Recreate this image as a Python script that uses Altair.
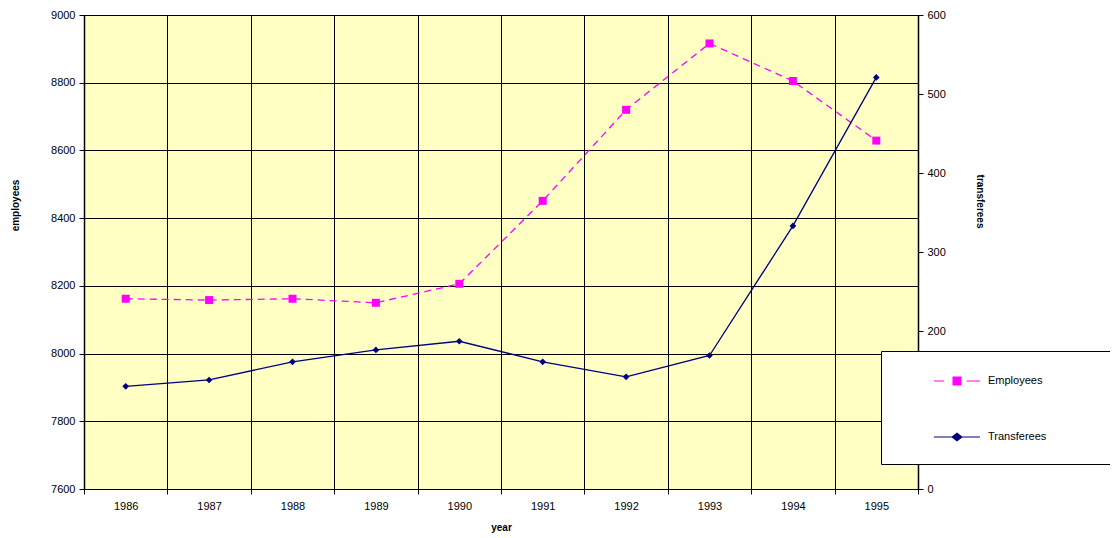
import altair as alt
import pandas as pd

years = [1986, 1987, 1988, 1989, 1990, 1991, 1992, 1993, 1994, 1995]
employees = [8162, 8158, 8162, 8150, 8206, 8451, 8720, 8916, 8805, 8629]
transferees = [130, 138, 161, 176, 187, 161, 142, 169, 333, 521]
series_names = ["Employees", "Transferees"]
series_colors = ["#FF00FF", "#000080"]

df = pd.DataFrame({
    "year": years * 2,
    "value": employees + transferees,
    "series": [series_names[0]] * len(years) + [series_names[1]] * len(years),
})

FONT = "Liberation Sans"

emp_path = "M-1,0H-0.56M-0.17,-0.17H0.17V0.17H-0.17ZM0.42,0H1"
tra_path = "M-1,0H1M0,-0.16L0.21,0L0,0.16L-0.21,0Z"

color = alt.Color(
    "series:N",
    scale=alt.Scale(domain=series_names, range=series_colors),
    legend=alt.Legend(
        orient="none", legendX=797, legendY=336,
        title="\u00a0", titleOrient="right", titlePadding=75, titleFontSize=58,
        titleBaseline="top", titleLineHeight=58,
        fillColor="white", strokeColor="black", padding=6,
        symbolSize=2116, symbolOffset=46, rowPadding=25, labelOffset=7,
        labelFont=FONT, labelFontSize=11, labelColor="black",
        symbolType=alt.ExprRef(expr=f"datum.value === 'Employees' ? '{emp_path}' : '{tra_path}'"),
        symbolFillColor=alt.ExprRef(expr="datum.value === 'Employees' ? '#FF00FF' : '#000080'"),
        symbolStrokeWidth=1.2,
    ),
)

x = alt.X(
    "year:O",
    bandPosition=0.5,
    scale=alt.Scale(type="band", paddingInner=0, paddingOuter=0),
    axis=alt.Axis(
        title="year", labelAngle=0, tickBand="extent", grid=True,
        gridColor="black", gridOpacity=1, domainColor="black", tickColor="black",
        tickSize=5, labelPadding=6, titlePadding=11,
        labelFont=FONT, labelFontSize=11, labelColor="black",
        titleFont=FONT, titleFontSize=10, titleFontWeight="bold",
    ),
)

base = alt.Chart(df)

emp = base.transform_filter(alt.datum.series == "Employees").mark_line(
    strokeWidth=1.3, strokeDash=[7, 5],
    point=alt.OverlayMarkDef(shape="square", size=64, filled=True, strokeDash=[1, 0]),
).encode(
    x=x,
    y=alt.Y("value:Q", scale=alt.Scale(domain=[7600, 9000], nice=False, zero=False),
            axis=alt.Axis(title="employees", orient="left", values=list(range(7600, 9001, 200)),
                          format="d",
                          grid=True, gridColor="black", gridOpacity=1,
                          domainColor="black", domainWidth=1.5, tickColor="black", tickSize=5,
                          labelFont=FONT, labelFontSize=11, labelColor="black", labelPadding=4,
                          titleFont=FONT, titleFontSize=10, titleFontWeight="bold",
                          titleX=-64, titleY=190, titleAngle=270, titleBaseline="bottom")),
    color=color,
)

tra = base.transform_filter(alt.datum.series == "Transferees").mark_line(
    strokeWidth=1.3,
    point=alt.OverlayMarkDef(shape="diamond", size=45, filled=True),
).encode(
    x=x,
    y=alt.Y("value:Q", scale=alt.Scale(domain=[0, 600], nice=False),
            axis=alt.Axis(title="transferees", orient="right", values=list(range(0, 601, 100)),
                          format="d",
                          grid=False, domainColor="black", domainWidth=1.5, tickColor="black", tickSize=5,
                          labelFont=FONT, labelFontSize=11, labelColor="black", labelPadding=4,
                          titleFont=FONT, titleFontSize=10, titleFontWeight="bold",
                          titleX=56, titleY=186, titleAngle=90, titleBaseline="bottom")),
    color=color,
)

chart = alt.layer(emp, tra).resolve_scale(y="independent").properties(
    width=834, height=474,
    autosize=alt.AutoSizeParams(type="none"),
    padding={"left": 76, "top": 7, "right": 192, "bottom": 49},
    background="white",
).configure_view(fill="#FFFFC4", stroke="black", strokeWidth=1)

chart.save("out.html", embed_options={"renderer": "svg", "actions": False})
